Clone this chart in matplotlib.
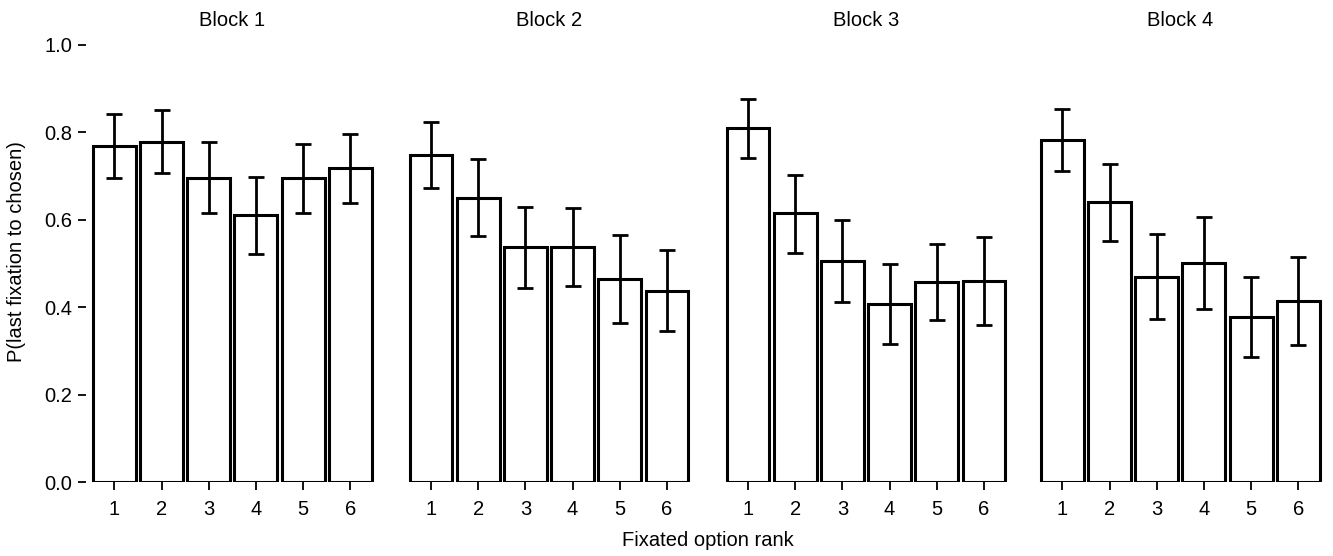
import numpy as np
import matplotlib.pyplot as plt

plt.rcParams['font.family'] = ['Liberation Sans', 'DejaVu Sans']

# data
ranks = [1, 2, 3, 4, 5, 6]
blocks = ["Block 1", "Block 2", "Block 3", "Block 4"]

p_block1 = [0.770, 0.779, 0.696, 0.610, 0.696, 0.718]
lo_block1 = [0.696, 0.706, 0.615, 0.522, 0.616, 0.638]
hi_block1 = [0.841, 0.852, 0.778, 0.698, 0.774, 0.796]

p_block2 = [0.749, 0.651, 0.538, 0.538, 0.464, 0.438]
lo_block2 = [0.673, 0.564, 0.445, 0.449, 0.364, 0.345]
hi_block2 = [0.824, 0.738, 0.630, 0.626, 0.565, 0.532]

p_block3 = [0.809, 0.615, 0.506, 0.407, 0.457, 0.461]
lo_block3 = [0.741, 0.525, 0.411, 0.316, 0.370, 0.360]
hi_block3 = [0.876, 0.703, 0.600, 0.499, 0.544, 0.561]

p_block4 = [0.782, 0.641, 0.470, 0.501, 0.378, 0.414]
lo_block4 = [0.712, 0.552, 0.372, 0.396, 0.287, 0.313]
hi_block4 = [0.853, 0.728, 0.568, 0.606, 0.470, 0.514]

means = [p_block1, p_block2, p_block3, p_block4]
lows = [lo_block1, lo_block2, lo_block3, lo_block4]
highs = [hi_block1, hi_block2, hi_block3, hi_block4]

W, H = 1333, 556
fig = plt.figure(figsize=(W / 100, H / 100), dpi=100)

unit = 47.2          # pixels per rank step
first_x = [114.3, 431.0, 748.0, 1062.3]   # pixel of rank 1 in each panel
y0, ypx = 482, 437   # pixel of 0 and pixels per 1.0
fs = 14.5

for k in range(4):
    left = first_x[k] - 0.6 * unit
    ax = fig.add_axes([left / W, (H - y0) / H, 6.2 * unit / W, ypx / H])
    m = np.array(means[k])
    err = np.array([m - np.array(lows[k]), np.array(highs[k]) - m])
    ax.bar(ranks, m, width=0.91, color='white', edgecolor='black', linewidth=2.2)
    ax.errorbar(ranks, m, yerr=err, fmt='none', ecolor='black', elinewidth=2.0,
                capsize=6, capthick=2.0)
    ax.set_xlim(0.4, 6.6)
    ax.set_ylim(0, 1)
    for s in ax.spines.values():
        s.set_visible(False)
    ax.set_xticks(ranks)
    ax.tick_params(axis='x', length=6, width=1.3, pad=7, labelsize=fs)
    if k == 0:
        ax.set_yticks([0, 0.2, 0.4, 0.6, 0.8, 1.0])
        ax.set_yticklabels(["0.0", "0.2", "0.4", "0.6", "0.8", "1.0"])
        ax.tick_params(axis='y', length=6, width=1.3, pad=4, labelsize=fs)
    else:
        ax.set_yticks([])
    fig.text((left + 3.1 * unit) / W, 1 - 21 / H, blocks[k], ha='center', va='center', fontsize=fs)

fig.text(708 / W, 1 - 540 / H, "Fixated option rank", ha='center', va='center', fontsize=fs)
fig.text(17 / W, 1 - 252 / H, "P(last fixation to chosen)", ha='center', va='center',
         rotation=90, fontsize=fs)

fig.savefig("out.png", dpi=100)
